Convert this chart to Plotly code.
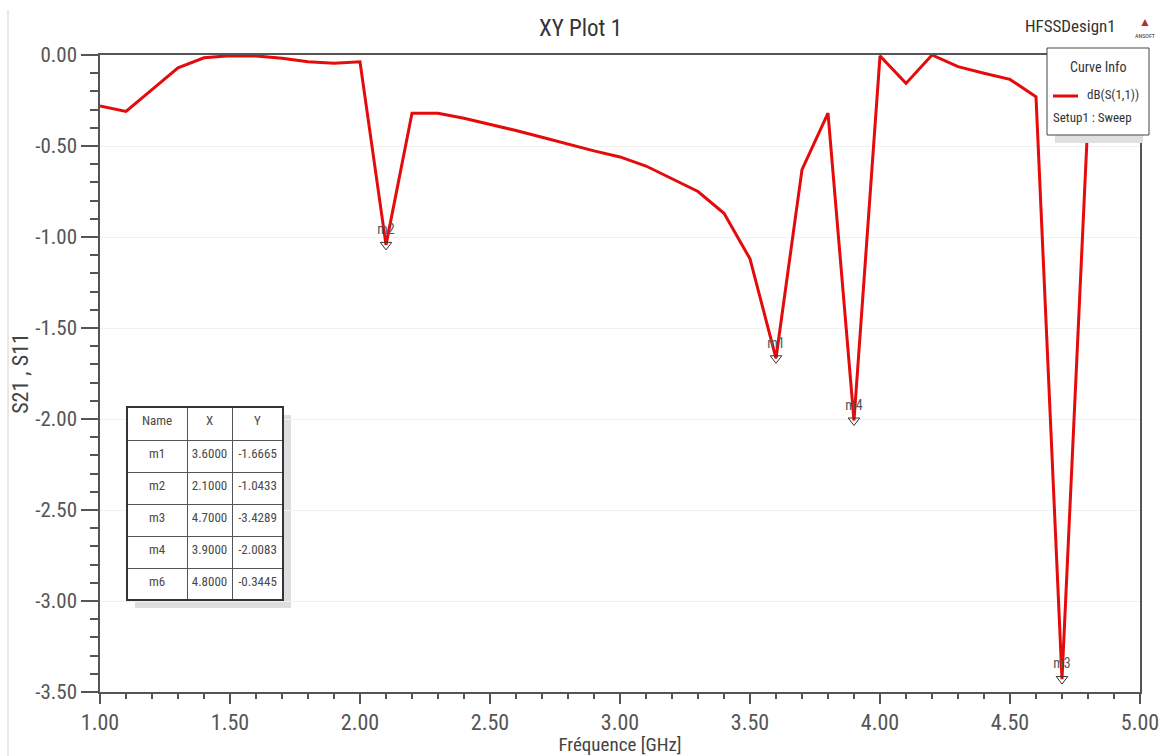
import plotly.graph_objects as go

# ---------------- data ----------------
freq_ghz = [1.0, 1.1, 1.2, 1.3, 1.4, 1.5, 1.6, 1.7, 1.8, 1.9,
            2.0, 2.1, 2.2, 2.3, 2.4, 2.5, 2.6, 2.7, 2.8, 2.9,
            3.0, 3.1, 3.2, 3.3, 3.4, 3.5, 3.6, 3.7, 3.8, 3.9,
            4.0, 4.1, 4.2, 4.3, 4.4, 4.5, 4.6, 4.7, 4.8]
s11_db = [-0.28, -0.31, -0.19, -0.07, -0.015, -0.004, -0.005, -0.018, -0.037, -0.045,
          -0.037, -1.0433, -0.32, -0.32, -0.348, -0.38, -0.415, -0.452, -0.49, -0.527,
          -0.56, -0.61, -0.68, -0.75, -0.87, -1.12, -1.6665, -0.63, -0.32, -2.0083,
          -0.005, -0.156, 0.0, -0.064, -0.10, -0.134, -0.23, -3.4289, -0.3445]

marker_names = ["m1", "m2", "m3", "m4", "m6"]
marker_x = [3.6, 2.1, 4.7, 3.9, 4.8]
marker_y = [-1.6665, -1.0433, -3.4289, -2.0083, -0.3445]
# m6 lies underneath the "Curve Info" box in the original, so its glyph is not drawn
marker_shown = [True, True, True, True, False]

x_ticks = [1.0, 1.5, 2.0, 2.5, 3.0, 3.5, 4.0, 4.5, 5.0]
y_ticks = [0.0, -0.5, -1.0, -1.5, -2.0, -2.5, -3.0, -3.5]

# ---------------- layout helpers ----------------
W, H = 1163, 756
ML, MR, MT, MB = 100, 23, 55, 64
PW, PH = W - ML - MR, H - MT - MB
FONT = "Liberation Sans Narrow, Arial Narrow, Roboto Condensed, Liberation Sans, Arial, sans-serif"
TXT = "#4a4a4a"


def px(x):
    """figure pixel x -> paper coordinate (relative to plot area)"""
    return (x - ML) / PW


def py(y):
    """figure pixel y (from top) -> paper coordinate (relative to plot area)"""
    return (H - MB - y) / PH


def label(text, x, y, size, xanchor="center", color="#333"):
    return dict(text=text, x=px(x), y=py(y), xref="paper", yref="paper",
                xanchor=xanchor, yanchor="middle", showarrow=False,
                font=dict(family=FONT, size=size, color=color))


fig = go.Figure()

fig.add_trace(go.Scatter(
    x=freq_ghz, y=s11_db, mode="lines",
    line=dict(color="#e30b0b", width=3),
    name="dB(S(1,1))", showlegend=False, hoverinfo="x+y",
))

shown = [i for i, s in enumerate(marker_shown) if s]
fig.add_trace(go.Scatter(
    x=[marker_x[i] for i in shown], y=[marker_y[i] for i in shown],
    mode="markers+text",
    text=[marker_names[i] for i in shown], textposition="top center",
    textfont=dict(family=FONT, size=14, color="#555"),
    marker=dict(symbol="triangle-down-open", size=10, color="#333", line=dict(width=1)),
    showlegend=False, hoverinfo="text+x+y",
))

# marker table
fig.add_trace(go.Table(
    domain=dict(x=[px(127), px(283)], y=[py(601), py(407)]),
    columnwidth=[60, 45, 51],
    header=dict(values=["Name", "X", "Y"], height=33,
                fill_color="white", line=dict(color="#555", width=1),
                font=dict(family=FONT, size=13, color=TXT), align="center"),
    cells=dict(values=[marker_names,
                       [f"{v:.4f}" for v in marker_x],
                       [f"{v:.4f}" for v in marker_y]],
               height=32, fill_color="white", line=dict(color="#555", width=1),
               font=dict(family=FONT, size=13, color=TXT), align="center"),
))

shapes = [
    # table shadow
    dict(type="rect", xref="paper", yref="paper", x0=px(135), x1=px(291), y0=py(608), y1=py(415),
         fillcolor="#dedede", line=dict(width=0), layer="below"),
    # table outer border
    dict(type="rect", xref="paper", yref="paper", x0=px(127), x1=px(283), y0=py(600), y1=py(407),
         fillcolor="rgba(0,0,0,0)", line=dict(color="#333", width=2), layer="above"),
    # legend shadow
    dict(type="rect", xref="paper", yref="paper", x0=px(1055), x1=px(1143), y0=py(143), y1=py(130),
         fillcolor="#e0e0e0", line=dict(width=0), layer="above"),
    # legend box
    dict(type="rect", xref="paper", yref="paper", x0=px(1047), x1=px(1149), y0=py(135), y1=py(48),
         fillcolor="white", line=dict(color="#444", width=1), layer="above"),
    # legend line sample
    dict(type="line", xref="paper", yref="paper", x0=px(1053), x1=px(1078), y0=py(96), y1=py(96),
         line=dict(color="#e30b0b", width=3), layer="above"),
    # page frame line at left
    dict(type="line", xref="paper", yref="paper", x0=px(8), x1=px(8), y0=py(756), y1=py(10),
         line=dict(color="#d0d0d0", width=1), layer="below"),
]

annotations = [
    label("XY Plot 1", 580, 28, 23),
    label("HFSSDesign1", 1118, 26, 17, xanchor="right"),
    label("▲", 1145, 22, 12, color="#b03030"),
    label("ANSOFT", 1145, 35, 6),
    label("Curve Info", 1098, 67, 14),
    label("dB(S(1,1))", 1085, 95, 13, xanchor="left"),
    label("Setup1 : Sweep", 1051, 118, 13, xanchor="left"),
]

fig.update_layout(
    width=W, height=H,
    margin=dict(l=ML, r=MR, t=MT, b=MB, autoexpand=False),
    paper_bgcolor="white", plot_bgcolor="white",
    font=dict(family=FONT, color=TXT),
    showlegend=False,
    shapes=shapes, annotations=annotations,
    xaxis=dict(
        range=[1.0, 5.0], tickvals=x_ticks, ticktext=[f"{v:.2f}" for v in x_ticks],
        automargin=False,
        showline=True, linecolor="#555", linewidth=1.5, mirror=True,
        ticks="outside", ticklen=10, tickcolor="#555", tickwidth=1.5,
        minor=dict(dtick=0.1, ticks="outside", ticklen=5, tickcolor="#555", showgrid=False),
        showgrid=False, zeroline=False,
        tickfont=dict(family=FONT, size=22, color="#555"),
        title=dict(text="Fréquence [GHz]", standoff=6, font=dict(family=FONT, size=19, color="#444")),
    ),
    yaxis=dict(
        range=[-3.5, 0.0], tickvals=y_ticks, ticktext=[f"{v:.2f}" for v in y_ticks],
        automargin=False,
        showline=True, linecolor="#555", linewidth=1.5, mirror=True,
        ticks="outside", ticklen=17, tickcolor="#555", tickwidth=1.5,
        minor=dict(dtick=0.1, ticks="outside", ticklen=8, tickcolor="#555", showgrid=False),
        showgrid=True, gridcolor="#f1f1f1", zeroline=False,
        tickfont=dict(family=FONT, size=21, color="#555"),
        title=dict(text="S21 , S11", standoff=0, font=dict(family=FONT, size=22, color="#444")),
    ),
)

fig.write_html("out.html")
